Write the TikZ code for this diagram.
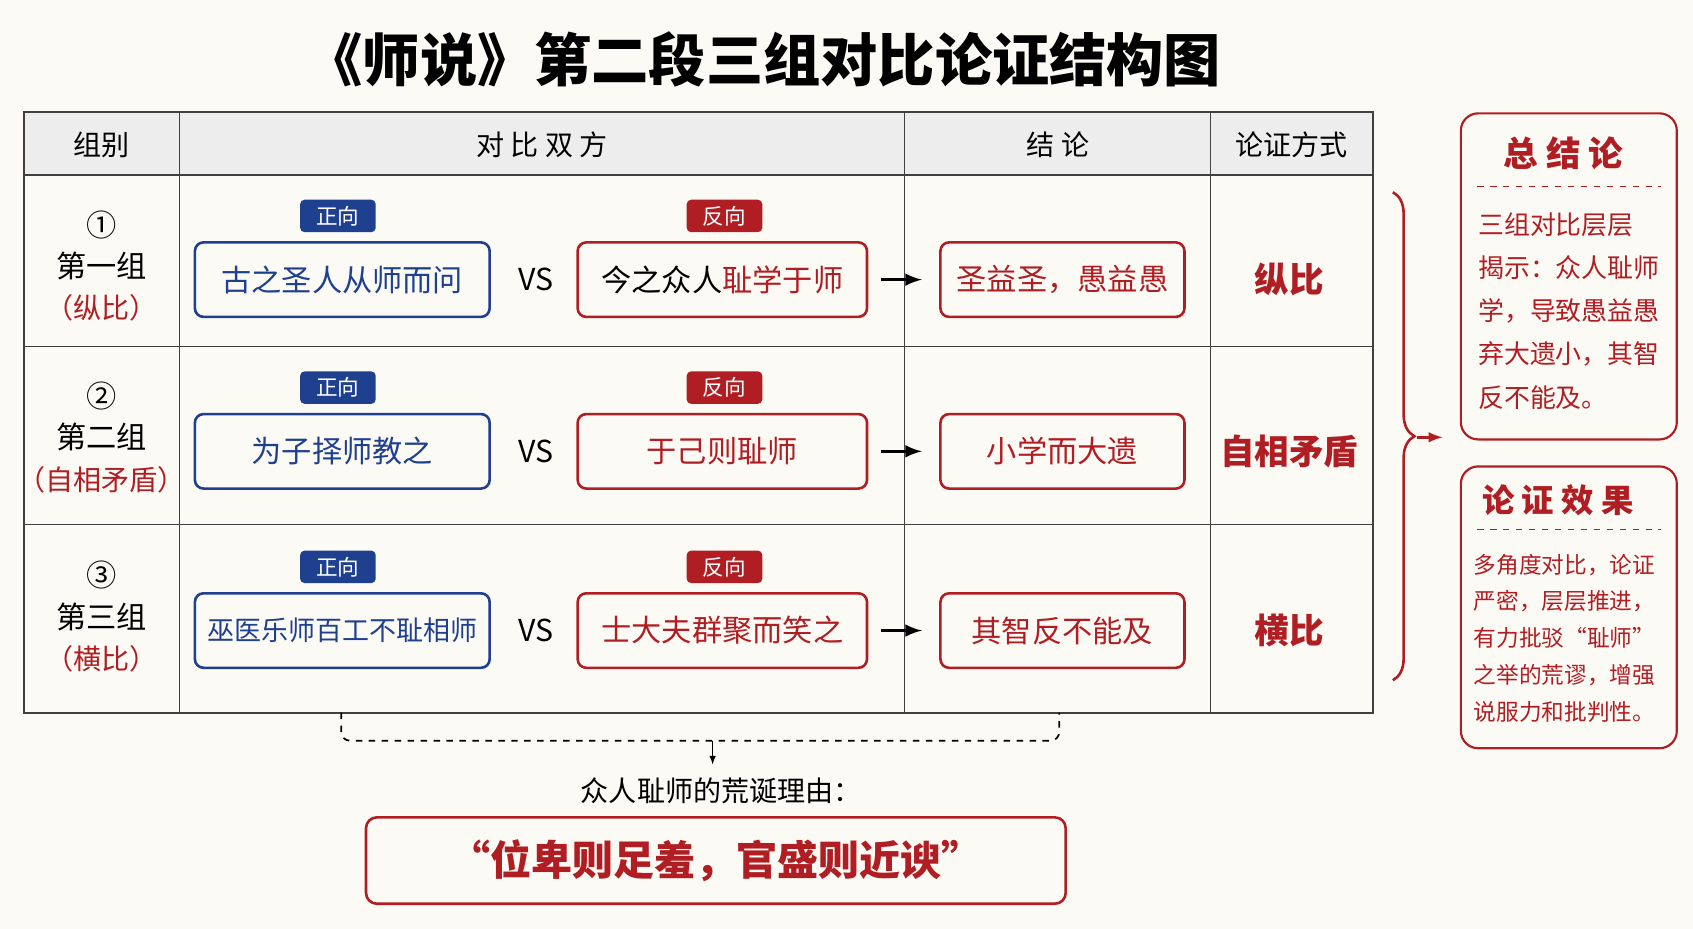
\documentclass[tikz,border=0pt]{standalone}
\usepackage{fontspec}
\setmainfont{Noto Sans CJK SC}
\usetikzlibrary{positioning,decorations.pathreplacing}
\definecolor{navy}{HTML}{1F3F8F}
\definecolor{brick}{HTML}{B01E23}
\definecolor{paper}{HTML}{FCFAF5}
\definecolor{headgray}{HTML}{EDEDED}
\tikzset{
  posbox/.style={draw=navy,line width=1.2pt,rounded corners=4pt,minimum width=136.5pt,minimum height=34.5pt,text=navy,font=\fontsize{14}{16}\selectfont},
  negbox/.style={draw=brick,line width=1.2pt,rounded corners=4pt,minimum width=134pt,minimum height=34.5pt,text=brick,font=\fontsize{14}{16}\selectfont},
  resbox/.style={negbox,minimum width=113pt},
  tag/.style={fill=#1,rounded corners=2pt,text=white,minimum width=35pt,minimum height=15pt,inner sep=1pt,font=\fontsize{10}{12}\selectfont},
  grp/.style={font=\fontsize{14}{16}\selectfont},
  method/.style={text=brick,font=\bfseries\fontsize{16}{18}\selectfont},
  head/.style={font=\fontsize{13}{15}\selectfont},
  side/.style={draw=brick,line width=1pt,rounded corners=8pt},
  sidetext/.style={text=brick,anchor=west,font=\fontsize{12}{14}\selectfont},
  vs/.style={font=\fontsize{14}{16}\selectfont},
}
\begin{document}
\begin{tikzpicture}[x=0.5pt,y=-0.5pt]
\fill[paper] (0,0) rectangle (1568,860);
\useasboundingbox (0,0) rectangle (1568,860);

% title
\node (title) at (707,55) {\bfseries\fontsize{26.5}{30}\selectfont 《师说》第二段三组对比论证结构图};

% table
\fill[headgray] (22,104) rectangle (1272,162);
\draw[line width=0.9pt,black!75] (22,104) rectangle (1272,660);
\foreach \y in {162,321,486} \draw[black!75,line width=0.6pt] (22,\y) -- (1272,\y);
\foreach \x in {166,838,1121} \draw[black!75,line width=0.6pt] (\x,104) -- (\x,660);
\node[head] (h1) at (94,134) {组别};
\node[head] (h2) at (502,134) {对 比 双 方};
\node[head] (h3) at (980,134) {结 论};
\node[head] (h4) at (1196,134) {论证方式};

% rows: y of boxes, label lines, texts
\foreach \n/\yb/\num/\name/\kind/\res/\meth in {
  r1/259/①/第一组/（纵比）/圣益圣，愚益愚/纵比,
  r2/418/②/第二组/（自相矛盾）/小学而大遗/自相矛盾,
  r3/584/③/第三组/（横比）/其智反不能及/横比}{
  \node[grp] (\n num) at (94,\yb-51) {\num};
  \node[grp] (\n name) at (94,\yb-13) {\name};
  \node[grp,text=brick,font=\fontsize{13}{15}\selectfont] (\n kind) at (94,\yb+26) {\kind};
  \node[tag=navy] (\n tagp) at (313,\yb-59) {正向};
  \node[tag=brick] (\n tagn) at (671,\yb-59) {反向};
  \node[posbox] (\n pos) at (317,\yb) {};
  \node[negbox] (\n neg) at (669,\yb) {};
  \node[vs] (\n vs) at (496,\yb) {VS};
  \node[resbox] (\n res) at (984,\yb) {\res};
  \node[method] (\n meth) at (1194,\yb) {\meth};
  \draw[-latex,line width=1.6pt] (\n neg.east) ++(12,0) -- ([xshift=-8]\n res.west);
}
% box texts (own size for the long one)
\node[text=navy,font=\fontsize{14}{16}\selectfont] at (r1pos) {古之圣人从师而问};
\node[text=black,font=\fontsize{14}{16}\selectfont] at (r1neg) {今之众人\textcolor{brick}{耻学于师}};
\node[text=navy,font=\fontsize{14}{16}\selectfont] at (r2pos) {为子择师教之};
\node[text=brick,font=\fontsize{14}{16}\selectfont] at (r2neg) {于己则耻师};
\node[text=navy,font=\fontsize{12.5}{14}\selectfont] at (r3pos) {巫医乐师百工不耻相师};
\node[text=brick,font=\fontsize{14}{16}\selectfont] at (r3neg) {士大夫群聚而笑之};

% brace
\coordinate (bt) at (1290,178);
\coordinate (bb) at (1290,630);
\draw[brick,line width=1.2pt,decorate,decoration={brace,amplitude=10pt}] (bt) -- (bb);
\draw[brick,line width=1.2pt,-latex] (1312,405) -- (1336,405);

% side boxes
\draw[side] (1353,105) rectangle (1553,407);
\node[text=brick,font=\bfseries\fontsize{16}{18}\selectfont] (sum) at (1448,142) {总 结 论};
\draw[brick,dashed] (1368,173) -- (1538,173);
\foreach \t [count=\k] in {三组对比层层,揭示：众人耻师,学，导致愚益愚,弃大遗小，其智,反不能及。}
  \node[sidetext] (sum\k) at (1362,168+40*\k) {\t};
\draw[side] (1353,432) rectangle (1553,693);
\node[text=brick,font=\bfseries\fontsize{15}{18}\selectfont] (eff) at (1443,463) {论 证 效 果};
\draw[brick,dashed] (1368,490) -- (1538,490);
\foreach \t [count=\k] in {多角度对比，论证,严密，层层推进，,有力批驳“耻师”,之举的荒谬，增强,说服力和批判性。}
  \node[sidetext,font=\fontsize{10.5}{12}\selectfont] (eff\k) at (1358,489+34*\k) {\t};

% bottom
\coordinate (la) at (316,660);
\coordinate (ra) at (981,660);
\draw[dashed,line width=0.8pt,rounded corners=4pt] (la) -- (316,686) -- (981,686) -- (ra);
\node[font=\fontsize{13}{15}\selectfont] (why) at (668,732) {众人耻师的荒诞理由：};
\draw[-latex] (660,686) -- (660,708);
\node[draw=brick,line width=1.2pt,rounded corners=5pt,minimum width=324pt,minimum height=40pt,text=brick,font=\bfseries\fontsize{19}{22}\selectfont] (quote) at (663,797) {“位卑则足羞，官盛则近谀”};
\end{tikzpicture}
\end{document}
